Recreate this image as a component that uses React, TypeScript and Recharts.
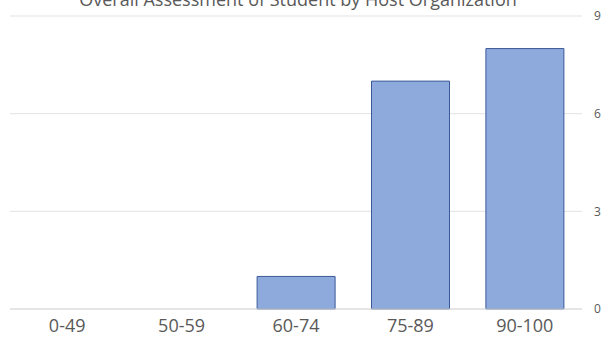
import { BarChart, Bar, XAxis, YAxis, CartesianGrid } from 'recharts';

const categories = ['0-49', '50-59', '60-74', '75-89', '90-100'];
const counts = [0, 0, 1, 7, 8];
const yTicks = [0, 3, 6, 9];

const data = categories.map((range, i) => ({ range, count: counts[i] }));

const font = '"Open Sans", sans-serif';

export default function App() {
  return (
    <div style={{ position: 'absolute', top: 0, left: 0, width: 602, height: 345, background: '#fff' }}>
      <div
        style={{
          position: 'absolute',
          top: -13,
          left: 0,
          width: 596,
          textAlign: 'center',
          fontFamily: font,
          fontSize: 18,
          lineHeight: '24px',
          color: '#595959',
        }}
      >
        Overall Assessment of Student by Host Organization
      </div>
      <BarChart
        width={602}
        height={345}
        data={data}
        margin={{ top: 16, right: 0, left: 10, bottom: 0 }}
        barCategoryGap="16%"
      >
        <CartesianGrid vertical={false} stroke="#e3e3e3" />
        <XAxis
          dataKey="range"
          height={36}
          tickLine={false}
          axisLine={{ stroke: '#d9d9d9' }}
          tickMargin={4}
          tick={{ fontSize: 18, fill: '#595959', fontFamily: font }}
        />
        <YAxis
          orientation="right"
          width={20}
          domain={[0, 9]}
          ticks={yTicks}
          axisLine={false}
          tickLine={false}
          tickMargin={6}
          tick={{ fontSize: 12, fill: '#595959', fontFamily: font }}
        />
        <Bar dataKey="count" fill="#8ea9db" stroke="#3b5a9a" strokeWidth={1} isAnimationActive={false} />
      </BarChart>
    </div>
  );
}
